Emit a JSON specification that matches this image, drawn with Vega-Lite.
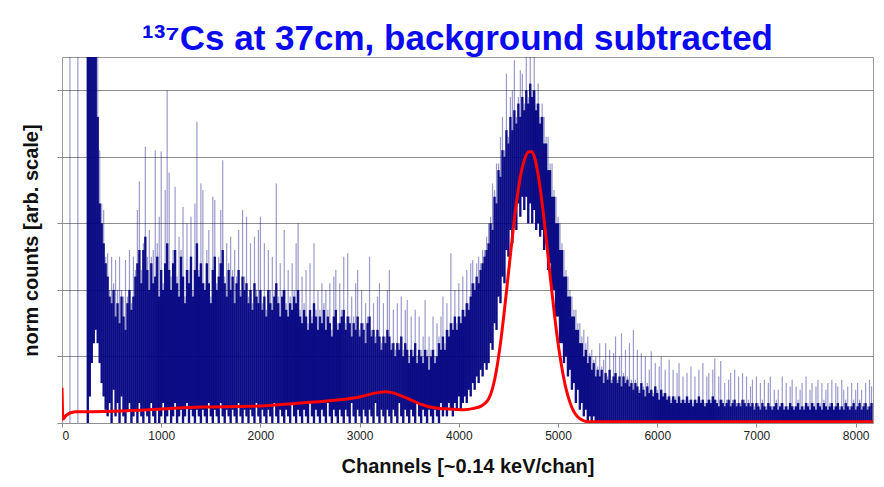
{
  "$schema": "https://vega.github.io/schema/vega-lite/v6.json",
  "width": 811,
  "height": 366,
  "autosize": {"type": "none"},
  "padding": {"left": 62, "top": 57, "right": 11, "bottom": 64},
  "background": "white",
  "title": {
    "text": "¹³⁷Cs at 37cm, background subtracted",
    "color": "#0a0af0",
    "font": "Liberation Sans",
    "fontSize": 35,
    "fontWeight": "bold",
    "anchor": "middle",
    "dx": -10,
    "offset": 0
  },
  "config": {
    "font": "Liberation Sans",
    "view": {"stroke": "#9a9a9a", "strokeWidth": 1},
    "axis": {
      "titleFont": "Liberation Sans",
      "titleFontWeight": "bold",
      "titleFontSize": 20,
      "titleColor": "#111111",
      "labelFont": "Liberation Sans",
      "labelColor": "#222222",
      "labelFontSize": 12,
      "tickColor": "#8a8a8a",
      "domain": false
    }
  },
  "datasets": {
    "spectrum": [
      {"c":0,"l":0,"m":0,"h":0},{"c":20,"l":0,"m":0,"h":0},{"c":40,"l":0,"m":0,"h":0},{"c":60,"l":0,"m":0,"h":0},
      {"c":80,"l":0,"m":0,"h":7},{"c":100,"l":0,"m":0,"h":0},{"c":120,"l":0,"m":0,"h":0},{"c":140,"l":0,"m":0,"h":0},
      {"c":160,"l":0,"m":0,"h":7},{"c":180,"l":0,"m":0,"h":0},{"c":200,"l":0,"m":0,"h":0},{"c":220,"l":0,"m":0,"h":0},
      {"c":240,"l":0,"m":0,"h":0},{"c":260,"l":0,"m":7,"h":7},{"c":280,"l":0.4,"m":7,"h":7},{"c":300,"l":0.9,"m":7,"h":7},
      {"c":320,"l":1.2,"m":7,"h":7},{"c":340,"l":1.4,"m":7,"h":7},{"c":360,"l":1.2,"m":4.6,"h":7},{"c":380,"l":0.9,"m":3.3,"h":4.1},
      {"c":400,"l":0.6,"m":3.0,"h":3.3},{"c":420,"l":0.4,"m":2.7,"h":3.2},{"c":440,"l":0.2,"m":2.4,"h":2.5},{"c":460,"l":0.1,"m":2.2,"h":2.55},
      {"c":480,"l":0.3,"m":1.9,"h":2.0},{"c":500,"l":0,"m":1.8,"h":2.5},{"c":520,"l":0.5,"m":2.0,"h":2.1},{"c":540,"l":0.1,"m":1.6,"h":2.45},
      {"c":560,"l":0.3,"m":1.8,"h":2.0},{"c":580,"l":0,"m":1.5,"h":2.5},{"c":600,"l":0.4,"m":1.9,"h":2.0},{"c":620,"l":0.1,"m":1.6,"h":1.9},
      {"c":640,"l":0,"m":1.4,"h":2.45},{"c":660,"l":0.2,"m":1.8,"h":1.9},{"c":680,"l":0.3,"m":2.0,"h":2.6},{"c":700,"l":0,"m":1.7,"h":1.8},
      {"c":720,"l":0.1,"m":1.9,"h":2.5},{"c":740,"l":0.2,"m":2.2,"h":2.3},{"c":760,"l":0,"m":2.4,"h":3.2},{"c":780,"l":0.3,"m":2.6,"h":3.63},
      {"c":800,"l":0.1,"m":2.1,"h":2.3},{"c":820,"l":0,"m":2.6,"h":2.7},{"c":840,"l":0.2,"m":2.8,"h":4.15},{"c":860,"l":0.1,"m":2.3,"h":2.5},
      {"c":880,"l":0,"m":2.0,"h":2.9},{"c":900,"l":0.3,"m":2.4,"h":2.5},{"c":920,"l":0.1,"m":2.1,"h":2.6},{"c":940,"l":0,"m":2.2,"h":4.1},
      {"c":960,"l":0.2,"m":2.5,"h":2.7},{"c":980,"l":0,"m":1.9,"h":3.1},{"c":1000,"l":0.1,"m":2.3,"h":4.08},{"c":1020,"l":0.3,"m":2.0,"h":2.1},
      {"c":1040,"l":0,"m":2.4,"h":3.5},{"c":1060,"l":0.1,"m":2.7,"h":5.0},{"c":1080,"l":0.2,"m":2.3,"h":3.76},{"c":1100,"l":0,"m":2.0,"h":2.2},
      {"c":1120,"l":0.1,"m":2.4,"h":2.6},{"c":1140,"l":0.3,"m":2.6,"h":3.55},{"c":1160,"l":0,"m":2.1,"h":2.2},{"c":1180,"l":0.1,"m":1.9,"h":2.8},
      {"c":1200,"l":0.2,"m":2.5,"h":2.6},{"c":1220,"l":0,"m":2.2,"h":3.25},{"c":1240,"l":0.1,"m":1.8,"h":1.9},{"c":1260,"l":0.3,"m":2.3,"h":3.0},
      {"c":1280,"l":0,"m":2.1,"h":2.3},{"c":1300,"l":0.2,"m":2.5,"h":3.1},{"c":1320,"l":0.1,"m":1.9,"h":2.0},{"c":1340,"l":0,"m":2.3,"h":3.3},
      {"c":1360,"l":0.2,"m":2.7,"h":4.53},{"c":1380,"l":0.1,"m":2.2,"h":2.3},{"c":1400,"l":0,"m":2.4,"h":3.6},{"c":1420,"l":0.2,"m":2.1,"h":3.5},
      {"c":1440,"l":0.1,"m":2.0,"h":2.1},{"c":1460,"l":0,"m":2.4,"h":2.6},{"c":1480,"l":0.3,"m":2.1,"h":2.9},{"c":1500,"l":0.1,"m":1.8,"h":1.9},
      {"c":1520,"l":0,"m":2.3,"h":3.4},{"c":1540,"l":0.2,"m":2.5,"h":3.35},{"c":1560,"l":0.1,"m":2.0,"h":2.1},{"c":1580,"l":0,"m":2.2,"h":2.5},
      {"c":1600,"l":0.3,"m":2.4,"h":3.2},{"c":1620,"l":0.1,"m":2.6,"h":3.95},{"c":1640,"l":0,"m":2.1,"h":2.2},{"c":1660,"l":0.2,"m":1.9,"h":2.7},
      {"c":1680,"l":0.1,"m":2.3,"h":2.4},{"c":1700,"l":0,"m":2.0,"h":2.8},{"c":1720,"l":0.2,"m":2.2,"h":2.3},{"c":1740,"l":0.1,"m":1.8,"h":2.6},
      {"c":1760,"l":0,"m":2.1,"h":2.2},{"c":1780,"l":0.3,"m":2.3,"h":2.9},{"c":1800,"l":0.1,"m":1.9,"h":2.0},{"c":1820,"l":0,"m":2.2,"h":3.2},
      {"c":1840,"l":0.2,"m":2.0,"h":2.2},{"c":1860,"l":0.1,"m":2.1,"h":3.1},{"c":1880,"l":0,"m":1.8,"h":1.9},{"c":1900,"l":0.2,"m":2.0,"h":2.7},
      {"c":1920,"l":0.1,"m":1.7,"h":1.8},{"c":1940,"l":0,"m":2.1,"h":2.8},{"c":1960,"l":0.3,"m":1.9,"h":2.0},{"c":1980,"l":0.1,"m":1.8,"h":2.9},
      {"c":2000,"l":0,"m":2.0,"h":3.1},{"c":2020,"l":0.2,"m":1.7,"h":1.8},{"c":2040,"l":0.1,"m":1.9,"h":2.7},{"c":2060,"l":0,"m":1.6,"h":1.7},
      {"c":2080,"l":0.2,"m":2.0,"h":2.6},{"c":2100,"l":0.1,"m":1.8,"h":2.0},{"c":2120,"l":0,"m":1.7,"h":2.5},{"c":2140,"l":0.3,"m":1.9,"h":2.0},
      {"c":2160,"l":0.1,"m":2.1,"h":3.6},{"c":2180,"l":0,"m":1.8,"h":1.9},{"c":2200,"l":0.2,"m":1.6,"h":2.4},{"c":2220,"l":0.1,"m":1.9,"h":2.0},
      {"c":2240,"l":0,"m":2.0,"h":2.9},{"c":2260,"l":0.2,"m":1.7,"h":1.8},{"c":2280,"l":0.1,"m":1.6,"h":2.3},{"c":2300,"l":0,"m":1.8,"h":1.9},
      {"c":2320,"l":0.3,"m":1.7,"h":2.4},{"c":2340,"l":0.1,"m":1.9,"h":2.0},{"c":2360,"l":0,"m":1.8,"h":2.7},{"c":2380,"l":0.2,"m":2.0,"h":3.0},
      {"c":2400,"l":0.1,"m":1.6,"h":1.7},{"c":2420,"l":0,"m":1.5,"h":2.2},{"c":2440,"l":0.2,"m":1.7,"h":1.8},{"c":2460,"l":0.1,"m":1.6,"h":2.3},
      {"c":2480,"l":0,"m":1.4,"h":1.5},{"c":2500,"l":0.3,"m":1.7,"h":2.4},{"c":2520,"l":0.1,"m":1.5,"h":1.6},{"c":2540,"l":0,"m":1.8,"h":2.7},
      {"c":2560,"l":0.2,"m":1.6,"h":1.7},{"c":2580,"l":0.1,"m":1.4,"h":2.0},{"c":2600,"l":0,"m":1.6,"h":1.7},{"c":2620,"l":0.2,"m":1.5,"h":2.1},
      {"c":2640,"l":0.1,"m":1.7,"h":1.8},{"c":2660,"l":0,"m":1.4,"h":2.0},{"c":2680,"l":0.3,"m":1.6,"h":1.7},{"c":2700,"l":0.1,"m":1.5,"h":2.1},
      {"c":2720,"l":0,"m":1.3,"h":1.4},{"c":2740,"l":0.2,"m":1.6,"h":2.2},{"c":2760,"l":0.1,"m":1.7,"h":2.3},{"c":2780,"l":0,"m":1.4,"h":1.5},
      {"c":2800,"l":0.2,"m":1.5,"h":2.1},{"c":2820,"l":0.1,"m":1.6,"h":1.7},{"c":2840,"l":0,"m":1.7,"h":2.5},{"c":2860,"l":0.2,"m":1.4,"h":1.5},
      {"c":2880,"l":0.1,"m":1.6,"h":2.55},{"c":2900,"l":0,"m":1.5,"h":1.6},{"c":2920,"l":0.3,"m":1.3,"h":1.9},{"c":2940,"l":0.1,"m":1.5,"h":1.6},
      {"c":2960,"l":0,"m":1.4,"h":2.1},{"c":2980,"l":0.2,"m":1.6,"h":2.3},{"c":3000,"l":0.1,"m":1.3,"h":1.4},{"c":3020,"l":0,"m":1.5,"h":2.0},
      {"c":3040,"l":0.2,"m":1.4,"h":1.5},{"c":3060,"l":0.1,"m":1.2,"h":1.8},{"c":3080,"l":0,"m":1.5,"h":1.6},{"c":3100,"l":0.2,"m":1.6,"h":2.5},
      {"c":3120,"l":0.1,"m":1.3,"h":1.4},{"c":3140,"l":0,"m":1.4,"h":1.8},{"c":3160,"l":0.3,"m":1.2,"h":1.3},{"c":3180,"l":0.1,"m":1.4,"h":1.9},
      {"c":3200,"l":0,"m":1.3,"h":2.1},{"c":3220,"l":0.2,"m":1.1,"h":1.2},{"c":3240,"l":0.1,"m":1.3,"h":1.8},{"c":3260,"l":0,"m":1.2,"h":1.3},
      {"c":3280,"l":0.2,"m":1.4,"h":2.0},{"c":3300,"l":0.1,"m":1.3,"h":2.3},{"c":3320,"l":0,"m":1.1,"h":1.2},{"c":3340,"l":0.2,"m":1.2,"h":1.7},
      {"c":3360,"l":0.1,"m":1.0,"h":1.1},{"c":3380,"l":0,"m":1.2,"h":1.8},{"c":3400,"l":0.3,"m":1.1,"h":1.2},{"c":3420,"l":0.1,"m":1.3,"h":1.9},
      {"c":3440,"l":0,"m":1.0,"h":1.1},{"c":3460,"l":0.2,"m":1.2,"h":1.7},{"c":3480,"l":0.1,"m":1.1,"h":1.85},{"c":3500,"l":0,"m":0.9,"h":1.0},
      {"c":3520,"l":0.2,"m":1.1,"h":1.6},{"c":3540,"l":0.1,"m":1.0,"h":1.1},{"c":3560,"l":0,"m":1.2,"h":1.7},{"c":3580,"l":0.3,"m":0.9,"h":1.0},
      {"c":3600,"l":0.1,"m":1.1,"h":1.6},{"c":3620,"l":0,"m":1.0,"h":1.1},{"c":3640,"l":0.2,"m":0.9,"h":1.3},{"c":3660,"l":0.1,"m":1.1,"h":1.85},
      {"c":3680,"l":0,"m":1.0,"h":1.1},{"c":3700,"l":0.2,"m":0.8,"h":1.3},{"c":3720,"l":0.1,"m":1.0,"h":1.1},{"c":3740,"l":0,"m":1.1,"h":1.6},
      {"c":3760,"l":0.2,"m":0.9,"h":1.0},{"c":3780,"l":0.1,"m":1.0,"h":1.5},{"c":3800,"l":0,"m":1.2,"h":1.3},{"c":3820,"l":0.3,"m":1.1,"h":1.6},
      {"c":3840,"l":0.1,"m":1.3,"h":1.9},{"c":3860,"l":0.2,"m":1.1,"h":1.2},{"c":3880,"l":0.1,"m":1.4,"h":1.8},{"c":3900,"l":0.3,"m":1.3,"h":1.4},
      {"c":3920,"l":0.2,"m":1.5,"h":2.55},{"c":3940,"l":0.1,"m":1.4,"h":1.5},{"c":3960,"l":0.3,"m":1.6,"h":2.0},{"c":3980,"l":0.2,"m":1.4,"h":1.5},
      {"c":4000,"l":0.4,"m":1.6,"h":2.1},{"c":4020,"l":0.2,"m":1.5,"h":1.6},{"c":4040,"l":0.3,"m":1.7,"h":2.2},{"c":4060,"l":0.4,"m":1.6,"h":1.7},
      {"c":4080,"l":0.3,"m":1.8,"h":2.3},{"c":4100,"l":0.5,"m":1.7,"h":1.8},{"c":4120,"l":0.4,"m":1.9,"h":2.4},{"c":4140,"l":0.6,"m":2.1,"h":2.45},
      {"c":4160,"l":0.5,"m":2.0,"h":2.1},{"c":4180,"l":0.7,"m":2.2,"h":2.4},{"c":4200,"l":0.6,"m":2.1,"h":2.5},{"c":4220,"l":0.8,"m":2.3,"h":2.4},
      {"c":4240,"l":0.7,"m":2.4,"h":2.6},{"c":4260,"l":0.9,"m":2.5,"h":2.6},{"c":4280,"l":0.8,"m":2.6,"h":2.8},{"c":4300,"l":0.9,"m":2.7,"h":3.0},
      {"c":4320,"l":1.2,"m":3.0,"h":3.1},{"c":4340,"l":1.1,"m":2.9,"h":3.6},{"c":4360,"l":1.5,"m":3.4,"h":3.5},{"c":4380,"l":1.4,"m":3.3,"h":3.9},
      {"c":4400,"l":1.9,"m":3.8,"h":3.9},{"c":4420,"l":1.8,"m":3.7,"h":4.3},{"c":4440,"l":2.2,"m":4.1,"h":4.6},{"c":4460,"l":2.1,"m":4.0,"h":4.1},
      {"c":4480,"l":2.6,"m":4.4,"h":5.25},{"c":4500,"l":2.5,"m":4.2,"h":4.3},{"c":4520,"l":2.9,"m":4.6,"h":4.9},{"c":4540,"l":2.7,"m":4.4,"h":5.0},
      {"c":4560,"l":3.1,"m":4.7,"h":5.45},{"c":4580,"l":2.9,"m":4.5,"h":4.6},{"c":4600,"l":3.3,"m":4.8,"h":4.9},{"c":4620,"l":3.1,"m":4.6,"h":5.3},
      {"c":4640,"l":3.4,"m":4.9,"h":5.25},{"c":4660,"l":3.2,"m":4.7,"h":4.8},{"c":4680,"l":3.4,"m":5.0,"h":5.5},{"c":4700,"l":3.0,"m":4.8,"h":4.9},
      {"c":4720,"l":3.3,"m":5.1,"h":5.6},{"c":4740,"l":3.0,"m":4.9,"h":5.0},{"c":4760,"l":3.2,"m":5.0,"h":5.6},{"c":4780,"l":2.9,"m":4.7,"h":4.8},
      {"c":4800,"l":3.0,"m":4.8,"h":5.1},{"c":4820,"l":2.8,"m":4.5,"h":4.6},{"c":4840,"l":2.9,"m":4.6,"h":4.8},{"c":4860,"l":2.6,"m":4.2,"h":4.6},
      {"c":4880,"l":2.7,"m":4.2,"h":4.3},{"c":4900,"l":2.3,"m":3.8,"h":4.3},{"c":4920,"l":2.4,"m":3.8,"h":3.9},{"c":4940,"l":2.0,"m":3.4,"h":3.9},
      {"c":4960,"l":2.0,"m":3.4,"h":3.5},{"c":4980,"l":1.6,"m":3.0,"h":3.4},{"c":5000,"l":1.6,"m":3.0,"h":3.1},{"c":5020,"l":1.2,"m":2.6,"h":3.0},
      {"c":5040,"l":1.2,"m":2.6,"h":2.7},{"c":5060,"l":0.9,"m":2.2,"h":2.6},{"c":5080,"l":1.0,"m":2.2,"h":2.3},{"c":5100,"l":0.7,"m":1.9,"h":2.2},
      {"c":5120,"l":0.8,"m":1.9,"h":2.0},{"c":5140,"l":0.5,"m":1.6,"h":1.9},{"c":5160,"l":0.6,"m":1.6,"h":1.7},{"c":5180,"l":0.3,"m":1.4,"h":1.7},
      {"c":5200,"l":0.5,"m":1.4,"h":1.5},{"c":5220,"l":0.2,"m":1.2,"h":1.5},{"c":5240,"l":0.3,"m":1.2,"h":1.3},{"c":5260,"l":0.1,"m":1.0,"h":1.4},
      {"c":5280,"l":0.2,"m":1.1,"h":1.2},{"c":5300,"l":0,"m":0.9,"h":1.3},{"c":5320,"l":0.1,"m":1.0,"h":1.05},{"c":5340,"l":0,"m":0.8,"h":1.1},
      {"c":5360,"l":0.1,"m":0.9,"h":0.95},{"c":5380,"l":0,"m":0.7,"h":1.0},{"c":5400,"l":0,"m":0.8,"h":0.85},{"c":5420,"l":0,"m":0.7,"h":1.2},
      {"c":5440,"l":0,"m":0.8,"h":0.85},{"c":5460,"l":0,"m":0.6,"h":0.95},{"c":5480,"l":0,"m":0.75,"h":1.2},{"c":5500,"l":0,"m":0.65,"h":0.7},
      {"c":5520,"l":0,"m":0.8,"h":1.1},{"c":5540,"l":0,"m":0.6,"h":0.65},{"c":5560,"l":0,"m":0.7,"h":1.05},{"c":5580,"l":0,"m":0.75,"h":1.3},
      {"c":5600,"l":0,"m":0.6,"h":0.65},{"c":5620,"l":0,"m":0.7,"h":1.0},{"c":5640,"l":0,"m":0.55,"h":1.35},{"c":5660,"l":0,"m":0.7,"h":0.75},
      {"c":5680,"l":0,"m":0.6,"h":1.1},{"c":5700,"l":0,"m":0.65,"h":0.7},{"c":5720,"l":0,"m":0.55,"h":1.2},{"c":5740,"l":0,"m":0.6,"h":0.65},
      {"c":5760,"l":0,"m":0.5,"h":1.4},{"c":5780,"l":0,"m":0.6,"h":0.65},{"c":5800,"l":0,"m":0.55,"h":1.1},{"c":5820,"l":0,"m":0.45,"h":0.5},
      {"c":5840,"l":0,"m":0.6,"h":1.05},{"c":5860,"l":0,"m":0.5,"h":0.55},{"c":5880,"l":0,"m":0.4,"h":1.0},{"c":5900,"l":0,"m":0.55,"h":0.6},
      {"c":5920,"l":0,"m":0.45,"h":0.8},{"c":5940,"l":0,"m":0.5,"h":1.08},{"c":5960,"l":0,"m":0.4,"h":0.45},{"c":5980,"l":0,"m":0.55,"h":0.9},
      {"c":6000,"l":0,"m":0.45,"h":0.5},{"c":6020,"l":0,"m":0.35,"h":0.85},{"c":6040,"l":0,"m":0.5,"h":1.0},{"c":6060,"l":0,"m":0.4,"h":0.45},
      {"c":6080,"l":0,"m":0.45,"h":0.8},{"c":6100,"l":0,"m":0.35,"h":0.4},{"c":6120,"l":0,"m":0.4,"h":0.95},{"c":6140,"l":0,"m":0.3,"h":0.35},
      {"c":6160,"l":0,"m":0.4,"h":0.8},{"c":6180,"l":0,"m":0.35,"h":0.4},{"c":6200,"l":0,"m":0.3,"h":0.75},{"c":6220,"l":0,"m":0.4,"h":0.9},
      {"c":6240,"l":0,"m":0.3,"h":0.35},{"c":6260,"l":0,"m":0.35,"h":0.7},{"c":6280,"l":0,"m":0.3,"h":0.35},{"c":6300,"l":0,"m":0.4,"h":0.75},
      {"c":6320,"l":0,"m":0.3,"h":0.35},{"c":6340,"l":0,"m":0.35,"h":0.85},{"c":6360,"l":0,"m":0.25,"h":0.3},{"c":6380,"l":0,"m":0.35,"h":0.7},
      {"c":6400,"l":0,"m":0.3,"h":0.35},{"c":6420,"l":0,"m":0.4,"h":0.8},{"c":6440,"l":0,"m":0.3,"h":0.35},{"c":6460,"l":0,"m":0.35,"h":0.9},
      {"c":6480,"l":0,"m":0.25,"h":0.3},{"c":6500,"l":0,"m":0.3,"h":0.7},{"c":6520,"l":0,"m":0.35,"h":0.75},{"c":6540,"l":0,"m":0.3,"h":0.35},
      {"c":6560,"l":0,"m":0.4,"h":0.8},{"c":6580,"l":0,"m":0.35,"h":0.97},{"c":6600,"l":0,"m":0.3,"h":0.35},{"c":6620,"l":0,"m":0.25,"h":0.7},
      {"c":6640,"l":0,"m":0.35,"h":0.93},{"c":6660,"l":0,"m":0.3,"h":0.35},{"c":6680,"l":0,"m":0.25,"h":0.6},{"c":6700,"l":0,"m":0.3,"h":0.35},
      {"c":6720,"l":0,"m":0.35,"h":0.65},{"c":6740,"l":0,"m":0.25,"h":0.75},{"c":6760,"l":0,"m":0.3,"h":0.35},{"c":6780,"l":0,"m":0.35,"h":0.8},
      {"c":6800,"l":0,"m":0.25,"h":0.3},{"c":6820,"l":0,"m":0.3,"h":0.7},{"c":6840,"l":0,"m":0.25,"h":0.3},{"c":6860,"l":0,"m":0.35,"h":0.75},
      {"c":6880,"l":0,"m":0.3,"h":0.35},{"c":6900,"l":0,"m":0.25,"h":0.7},{"c":6920,"l":0,"m":0.3,"h":0.35},{"c":6940,"l":0,"m":0.25,"h":0.55},
      {"c":6960,"l":0,"m":0.3,"h":0.65},{"c":6980,"l":0,"m":0.2,"h":0.25},{"c":7000,"l":0,"m":0.3,"h":0.7},{"c":7020,"l":0,"m":0.25,"h":0.3},
      {"c":7040,"l":0,"m":0.2,"h":0.6},{"c":7060,"l":0,"m":0.3,"h":0.35},{"c":7080,"l":0,"m":0.25,"h":0.65},{"c":7100,"l":0,"m":0.2,"h":0.25},
      {"c":7120,"l":0,"m":0.3,"h":0.6},{"c":7140,"l":0,"m":0.25,"h":0.7},{"c":7160,"l":0,"m":0.2,"h":0.25},{"c":7180,"l":0,"m":0.25,"h":0.5},
      {"c":7200,"l":0,"m":0.3,"h":0.35},{"c":7220,"l":0,"m":0.2,"h":0.5},{"c":7240,"l":0,"m":0.25,"h":0.3},{"c":7260,"l":0,"m":0.3,"h":0.7},
      {"c":7280,"l":0,"m":0.2,"h":0.25},{"c":7300,"l":0,"m":0.25,"h":0.6},{"c":7320,"l":0,"m":0.2,"h":0.25},{"c":7340,"l":0,"m":0.3,"h":0.55},
      {"c":7360,"l":0,"m":0.25,"h":0.65},{"c":7380,"l":0,"m":0.2,"h":0.25},{"c":7400,"l":0,"m":0.25,"h":0.55},{"c":7420,"l":0,"m":0.3,"h":0.35},
      {"c":7440,"l":0,"m":0.2,"h":0.5},{"c":7460,"l":0,"m":0.25,"h":0.6},{"c":7480,"l":0,"m":0.2,"h":0.25},{"c":7500,"l":0,"m":0.3,"h":0.7},
      {"c":7520,"l":0,"m":0.25,"h":0.3},{"c":7540,"l":0,"m":0.2,"h":0.5},{"c":7560,"l":0,"m":0.3,"h":0.6},{"c":7580,"l":0,"m":0.25,"h":0.3},
      {"c":7600,"l":0,"m":0.2,"h":0.55},{"c":7620,"l":0,"m":0.3,"h":0.65},{"c":7640,"l":0,"m":0.25,"h":0.3},{"c":7660,"l":0,"m":0.2,"h":0.6},
      {"c":7680,"l":0,"m":0.3,"h":0.35},{"c":7700,"l":0,"m":0.25,"h":0.5},{"c":7720,"l":0,"m":0.2,"h":0.6},{"c":7740,"l":0,"m":0.25,"h":0.3},
      {"c":7760,"l":0,"m":0.3,"h":0.65},{"c":7780,"l":0,"m":0.2,"h":0.25},{"c":7800,"l":0,"m":0.25,"h":0.6},{"c":7820,"l":0,"m":0.3,"h":0.55},
      {"c":7840,"l":0,"m":0.2,"h":0.25},{"c":7860,"l":0,"m":0.25,"h":0.65},{"c":7880,"l":0,"m":0.2,"h":0.5},{"c":7900,"l":0,"m":0.3,"h":0.35},
      {"c":7920,"l":0,"m":0.25,"h":0.55},{"c":7940,"l":0,"m":0.2,"h":0.25},{"c":7960,"l":0,"m":0.25,"h":0.6},{"c":7980,"l":0,"m":0.3,"h":0.35},
      {"c":8000,"l":0,"m":0.2,"h":0.5},{"c":8020,"l":0,"m":0.25,"h":0.6},{"c":8040,"l":0,"m":0.3,"h":0.35},{"c":8060,"l":0,"m":0.2,"h":0.5},
      {"c":8080,"l":0,"m":0.25,"h":0.3},{"c":8100,"l":0,"m":0.3,"h":0.6},{"c":8120,"l":0,"m":0.2,"h":0.25},{"c":8140,"l":0,"m":0.25,"h":0.65},
      {"c":8160,"l":0,"m":0.3,"h":0.55}
    ],
    "fit": [
      {"c":0,"v":0.53},{"c":10,"v":0.06},{"c":40,"v":0.11},{"c":80,"v":0.15},{"c":150,"v":0.17},{"c":300,"v":0.17},
      {"c":600,"v":0.18},{"c":1000,"v":0.21},{"c":1400,"v":0.24},{"c":1900,"v":0.25},{"c":2400,"v":0.3},{"c":2800,"v":0.35},
      {"c":3000,"v":0.39},{"c":3100,"v":0.43},{"c":3200,"v":0.46},{"c":3260,"v":0.47},{"c":3320,"v":0.46},{"c":3400,"v":0.42},
      {"c":3500,"v":0.36},{"c":3620,"v":0.28},{"c":3750,"v":0.23},{"c":3900,"v":0.21},{"c":4050,"v":0.2},{"c":4150,"v":0.22},
      {"c":4220,"v":0.25},{"c":4260,"v":0.29},{"c":4300,"v":0.36},{"c":4340,"v":0.52},{"c":4380,"v":0.8},{"c":4420,"v":1.2},
      {"c":4460,"v":1.7},{"c":4500,"v":2.25},{"c":4540,"v":2.8},{"c":4580,"v":3.3},{"c":4620,"v":3.7},{"c":4660,"v":3.95},
      {"c":4700,"v":4.07},{"c":4730,"v":4.08},{"c":4760,"v":4.01},{"c":4800,"v":3.73},{"c":4840,"v":3.3},{"c":4880,"v":2.78},
      {"c":4920,"v":2.22},{"c":4960,"v":1.68},{"c":5000,"v":1.2},{"c":5040,"v":0.82},{"c":5080,"v":0.52},{"c":5120,"v":0.31},
      {"c":5160,"v":0.17},{"c":5200,"v":0.09},{"c":5250,"v":0.04},{"c":5300,"v":0.02},{"c":8175,"v":0.02}
    ]
  },
  "encoding": {
    "x": {
      "field": "c",
      "type": "quantitative",
      "scale": {"domain": [0, 8175], "nice": false, "zero": false},
      "axis": {
        "values": [0, 1000, 2000, 3000, 4000, 5000, 6000, 7000, 8000],
        "format": "d",
        "grid": false,
        "tickSize": 4,
        "labelPadding": 3,
        "title": "Channels [~0.14 keV/chan]",
        "titlePadding": 15
      }
    }
  },
  "layer": [
    {
      "data": {"name": "spectrum"},
      "mark": {"type": "rule", "clip": true, "color": "#000080", "opacity": 0.4, "strokeWidth": 1.2},
      "encoding": {
        "y": {
          "field": "l",
          "type": "quantitative",
          "scale": {"domain": [0, 5.5], "nice": false},
          "title": "norm counts [arb. scale]",
          "axis": {
            "values": [0, 1, 2, 3, 4, 5],
            "labels": false,
            "tickSize": 5,
            "grid": true,
            "gridColor": "#8f8f8f",
            "gridWidth": 1,
            "titlePadding": 15
          }
        },
        "y2": {"field": "h"}
      }
    },
    {
      "data": {"name": "spectrum"},
      "mark": {"type": "rule", "clip": true, "color": "#000080", "opacity": 0.92, "strokeWidth": 2.4},
      "encoding": {
        "y": {"field": "l", "type": "quantitative", "title": "norm counts [arb. scale]"},
        "y2": {"field": "m"}
      }
    },
    {
      "data": {"name": "fit"},
      "mark": {"type": "line", "clip": true, "color": "#ff0000", "strokeWidth": 3, "interpolate": "monotone"},
      "encoding": {
        "y": {"field": "v", "type": "quantitative", "title": "norm counts [arb. scale]"}
      }
    }
  ]
}
